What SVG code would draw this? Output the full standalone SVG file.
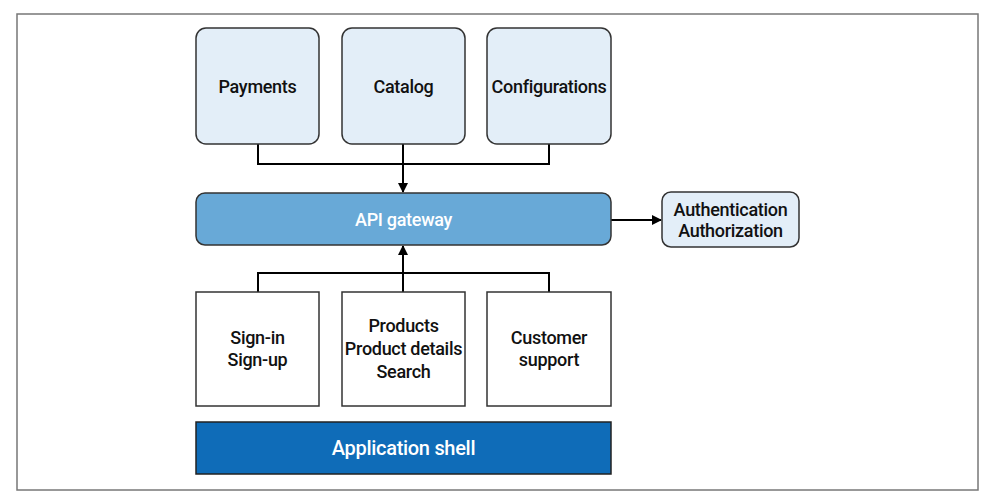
<svg xmlns="http://www.w3.org/2000/svg" width="989" height="503" viewBox="0 0 989 503">
<defs>
<marker id="ah" markerWidth="10" markerHeight="10" refX="9" refY="5" orient="auto" markerUnits="userSpaceOnUse">
<path d="M0,0 L10,5 L0,10 Z" fill="#000"/>
</marker>
<style>
.t{font-family:Roboto,"Liberation Sans",sans-serif;font-size:18px;font-weight:500;fill:#111;text-anchor:middle;letter-spacing:-0.3px}
.w{fill:#fff}
.lb{fill:#e3eef8;stroke:#333;stroke-width:1.5}
.wb{fill:#fff;stroke:#333;stroke-width:1.5}
.c{fill:none;stroke:#000;stroke-width:2}
</style>
</defs>
<rect width="989" height="503" fill="#fff"/>
<rect x="17" y="14" width="961" height="476" fill="none" stroke="#777" stroke-width="1.5"/>
<g id="connectors">
<path class="c" d="M258,144 V164 H549 V144 M403,144 V192" marker-end="url(#ah)"/>
<path class="c" d="M258,292 V273 H549 V292 M403,292 V246" marker-end="url(#ah)"/>
<path class="c" d="M611,220 H661" marker-end="url(#ah)"/>
</g>
<g id="payments"><rect class="lb" x="196" y="28" width="123" height="116" rx="10"/><text class="t" x="257.5" y="93">Payments</text></g>
<g id="catalog"><rect class="lb" x="342" y="28" width="123" height="116" rx="10"/><text class="t" x="403.5" y="93">Catalog</text></g>
<g id="configurations"><rect class="lb" x="487" y="28" width="124" height="116" rx="10"/><text class="t" x="549" y="93">Configurations</text></g>
<g id="gateway"><rect x="196" y="193" width="415" height="52" rx="9" fill="#68a9d7" stroke="#333" stroke-width="1.5"/><text class="t w" x="403.5" y="226">API gateway</text></g>
<g id="auth"><rect class="lb" x="662" y="192" width="137" height="55" rx="9"/><text class="t" x="730.5" y="216">Authentication</text><text class="t" x="730.5" y="237">Authorization</text></g>
<g id="signin"><rect class="wb" x="196" y="292" width="123" height="114"/><text class="t" x="257.5" y="344">Sign-in</text><text class="t" x="257.5" y="366">Sign-up</text></g>
<g id="products"><rect class="wb" x="342" y="292" width="123" height="114"/><text class="t" x="403.5" y="332">Products</text><text class="t" x="403.5" y="355">Product details</text><text class="t" x="403.5" y="378">Search</text></g>
<g id="support"><rect class="wb" x="487" y="292" width="124" height="114"/><text class="t" x="549" y="344">Customer</text><text class="t" x="549" y="366">support</text></g>
<g id="shell"><rect x="196" y="422" width="415" height="52" fill="#0f6cb8" stroke="#222" stroke-width="1.5"/><text class="t w" x="403.5" y="455" style="font-size:20px">Application shell</text></g>
</svg>
